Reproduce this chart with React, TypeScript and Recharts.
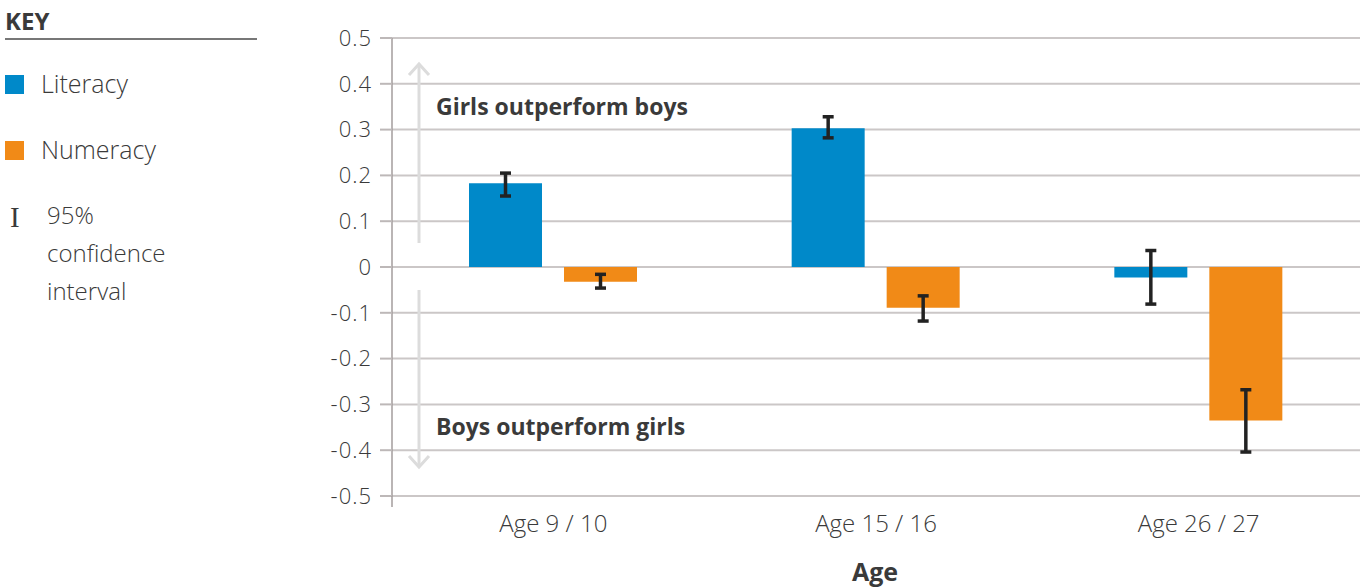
import { Bar, BarChart, CartesianGrid, ErrorBar, XAxis, YAxis } from "recharts";

const categories = ["Age 9 / 10", "Age 15 / 16", "Age 26 / 27"];
const literacy = [0.183, 0.303, -0.023];
const numeracy = [-0.032, -0.089, -0.335];
const literacyLow = [0.155, 0.282, -0.081];
const literacyHigh = [0.205, 0.328, 0.036];
const numeracyLow = [-0.046, -0.118, -0.404];
const numeracyHigh = [-0.016, -0.063, -0.268];
const yTicks = [-0.5, -0.4, -0.3, -0.2, -0.1, 0, 0.1, 0.2, 0.3, 0.4, 0.5];

const chartData = categories.map((age, i) => ({
  age,
  literacy: literacy[i],
  numeracy: numeracy[i],
  litErr: [literacy[i] - literacyLow[i], literacyHigh[i] - literacy[i]],
  numErr: [numeracy[i] - numeracyLow[i], numeracyHigh[i] - numeracy[i]],
}));

const FONT = "'Open Sans', 'Noto Sans', sans-serif";
const BLUE = "#0089c9";
const ORANGE = "#f18a17";
const TEXT = "#3a3a3a";

function Txt({ x, y, size = 24, bold = false, children, family = FONT }) {
  return (
    <div
      style={{
        position: "absolute",
        left: x,
        top: y - 16,
        height: 30,
        lineHeight: "30px",
        fontSize: size,
        fontWeight: bold ? 700 : 300,
        fontFamily: family,
        color: TEXT,
        whiteSpace: "nowrap",
      }}
    >
      {children}
    </div>
  );
}

export default function App() {
  return (
    <div style={{ position: "absolute", left: 0, top: 0, width: 1360, height: 587, fontFamily: FONT }}>
      {/* key */}
      <Txt x={5} y={22} size={24} bold>KEY</Txt>
      <div style={{ position: "absolute", left: 5, top: 38, width: 252, height: 1.5, background: "#777" }} />
      <div style={{ position: "absolute", left: 5, top: 75, width: 19, height: 19, background: BLUE }} />
      <Txt x={41} y={84} size={25}>Literacy</Txt>
      <div style={{ position: "absolute", left: 5, top: 141, width: 19, height: 19, background: ORANGE }} />
      <Txt x={41} y={150} size={25}>Numeracy</Txt>
      <Txt x={10} y={218} size={29} family="'Liberation Serif', serif">I</Txt>
      <Txt x={47} y={216}>95%</Txt>
      <Txt x={47} y={254}>confidence</Txt>
      <Txt x={47} y={292}>interval</Txt>

      <BarChart
        width={1360}
        height={587}
        data={chartData}
        margin={{ top: 38, right: 0, bottom: 0, left: 0 }}
        barSize={73}
        barGap={22}
        style={{ position: "absolute", left: 0, top: 0 }}
      >
        <CartesianGrid vertical={false} stroke="#cbc7c7" strokeWidth={2} />
        <XAxis
          dataKey="age"
          height={91}
          tickLine={false}
          axisLine={false}
          tickSize={0}
          tickMargin={19}
          tick={{ fill: TEXT, fontSize: 24, fontFamily: FONT, fontWeight: 300 }}
        />
        <YAxis
          width={392}
          domain={[-0.5, 0.5]}
          ticks={yTicks}
          interval={0}
          tickSize={12}
          tickMargin={8}
          axisLine={{ stroke: "#a39c9c", strokeWidth: 1.5 }}
          tickLine={{ stroke: "#bdb8b8", strokeWidth: 2 }}
          tick={{ fill: TEXT, fontSize: 22, fontFamily: FONT, fontWeight: 300, letterSpacing: 1 }}
        />
        <Bar dataKey="literacy" fill={BLUE} isAnimationActive={false}>
          <ErrorBar dataKey="litErr" width={5.5} strokeWidth={3.5} stroke="#222" direction="y" />
        </Bar>
        <Bar dataKey="numeracy" fill={ORANGE} isAnimationActive={false}>
          <ErrorBar dataKey="numErr" width={5.5} strokeWidth={3.5} stroke="#222" direction="y" />
        </Bar>
      </BarChart>

      {/* direction arrows and axis extension */}
      <svg width={1360} height={587} style={{ position: "absolute", left: 0, top: 0, pointerEvents: "none" }}>
        <line x1={392} y1={496} x2={392} y2={507} stroke="#a39c9c" strokeWidth={1.5} />
        <g stroke="#dcdcdc" strokeWidth={3} fill="none">
          <line x1={419} y1={243} x2={419} y2={64} />
          <polyline points="409,75 419,64 429,75" />
          <line x1={419} y1={290} x2={419} y2={467} />
          <polyline points="409,456 419,467 429,456" />
        </g>
      </svg>
      <Txt x={436} y={107} size={23} bold>Girls outperform boys</Txt>
      <Txt x={436} y={427} size={23} bold>Boys outperform girls</Txt>
      <Txt x={852} y={572} size={25} bold>Age</Txt>
    </div>
  );
}
